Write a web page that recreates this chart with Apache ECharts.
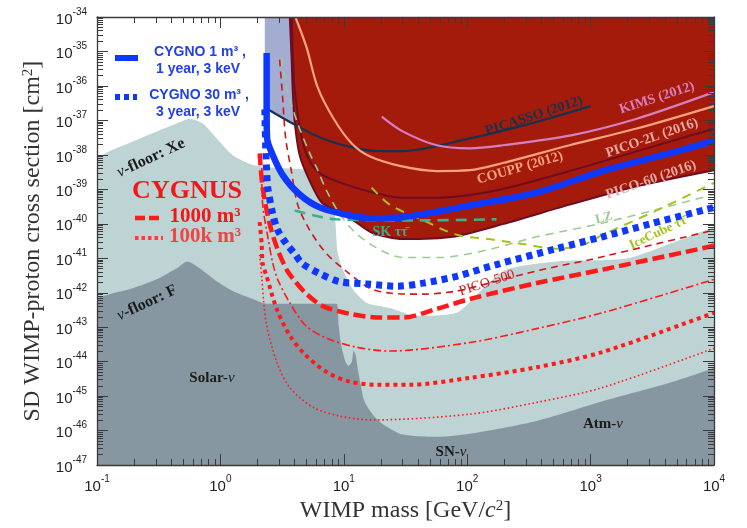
<!DOCTYPE html>
<html>
<head>
<meta charset="utf-8">
<script src="https://cdn.jsdelivr.net/npm/echarts@6/dist/echarts.min.js"></script>
<style>
  html, body { margin: 0; padding: 0; background: #fff; }
  #chart { width: 747px; height: 528px; }
</style>
</head>
<body>
<div id="chart"></div>
<script>
// values: [WIMP mass (GeV), cross section (cm^2)]
const xeFloor = [[0.1, 8.1e-39], [0.127, 1.29e-38], [0.195, 2.45e-38], [0.305, 4.8e-38], [0.443, 8.1e-38], [0.564, 1.12e-37], [0.718, 8.1e-38], [0.933, 3.0e-38], [1.26, 9.8e-39], [1.83, 5.1e-39], [2.86, 4.2e-39], [5.6, 3.6e-39], [7.8, 2.8e-39], [8.3, 5.75e-40], [8.6, 8.1e-41], [8.9, 1.55e-41], [9.8, 4.7e-42], [11.8, 1.29e-42], [15.3, 5.1e-43], [23.5, 3.6e-43], [38.9, 2.14e-43], [82, 2.63e-43], [133, 1.29e-42], [208, 4.7e-42], [531, 8.1e-42], [1960, 9.8e-42], [4375, 2.63e-41], [10000, 8.1e-41]];
const fFloor = [[0.1, 7.1e-43], [0.127, 9.1e-43], [0.195, 1.35e-42], [0.305, 2.45e-42], [0.443, 5.1e-42], [0.541, 8.1e-42], [0.679, 5.1e-42], [0.933, 2.14e-42], [1.26, 1.12e-42], [1.83, 6.6e-43], [2.37, 4.8e-43], [4.39, 4.8e-43], [8.7, 4.8e-43], [9.08, 1.12e-43], [9.6, 2.63e-44], [10.35, 9.8e-45], [10.9, 7.6e-45], [11.6, 9.8e-45], [12.0, 2.04e-44], [12.5, 1.55e-44], [12.9, 7.1e-45], [13.7, 2.14e-45], [14.7, 7.1e-46], [17.1, 3.0e-46], [20.6, 1.55e-46], [28.4, 8.1e-47], [36, 7.1e-47], [56.6, 6.6e-47], [105, 8.1e-47], [366, 1.91e-46], [1250, 7.1e-46], [4375, 2.45e-45], [10000, 6.6e-45]];

const picassoEdge = [[2.29, 1e-34], [2.29, 2.4e-37]];
const picasso = [[2.42, 2.1e-37], [3.85, 8.1e-38], [6.7, 3.0e-38], [12.7, 1.55e-38], [19.5, 1.29e-38], [30, 1.29e-38], [105, 3.0e-38], [366, 9.1e-38], [1000, 2.6e-37]];
const pico60 = [[3.65, 1e-34], [3.78, 5.75e-36], [3.85, 8.1e-37], [4.0, 9.1e-38], [4.39, 9.8e-39], [5.29, 1.78e-39], [6.62, 4.17e-40], [9.26, 2.14e-40], [12.2, 1.2e-40], [17.1, 5.4e-41], [30, 3.6e-41], [76, 4.2e-41], [194, 9.8e-41], [677, 3.6e-40], [2500, 1.29e-39], [10000, 3.6e-39]];
const pico2l = [[3.78, 1e-34], [3.95, 1.3e-36], [4.15, 2.63e-37], [4.56, 3.0e-38], [5.29, 6.6e-39], [6.7, 2.63e-39], [10.6, 1.35e-39], [17.1, 8.1e-40], [28.4, 5.75e-40], [56.6, 5.75e-40], [183, 9.8e-40], [677, 3.4e-39], [2500, 1.35e-38], [10000, 5.75e-38]];
const coupp = [[4.05, 1e-34], [5.0, 1.29e-35], [6.14, 9.1e-37], [8.28, 1.12e-37], [11.6, 2.14e-38], [16.2, 9.1e-39], [28.4, 4.8e-39], [56.6, 3.4e-39], [105, 3.6e-39], [194, 5.8e-39], [677, 1.9e-38], [2366, 5.8e-38], [10000, 2.6e-37]];
const kims = [[20.3, 1.29e-37], [30, 4.8e-38], [56.6, 1.9e-38], [105, 1.55e-38], [194, 1.9e-38], [677, 3.6e-38], [2366, 1.12e-37], [10000, 6.6e-37]];

const lz = [[3.14, 6.6e-36], [3.51, 7.1e-37], [4.23, 8.1e-38], [5.29, 1.12e-38], [6.03, 4.2e-39], [7.26, 9.1e-40], [9.3, 1.9e-40], [12.7, 5.1e-41], [19.5, 1.8e-41], [30, 1.05e-41], [60, 1.05e-41], [150, 1.8e-41], [366, 4.2e-41], [1250, 1.05e-40], [10000, 7.1e-40]];
const icecube = [[16.8, 1.12e-39], [23.5, 3.6e-40], [44, 1.26e-40], [82, 4.8e-41], [150, 3.6e-41], [280, 2.6e-41], [531, 1.9e-41], [863, 2.45e-41], [1250, 4.8e-41], [3435, 2.45e-40], [10000, 1.55e-39]];
const sk = [[4.0, 2.45e-40], [8.7, 1.35e-40], [41, 1.26e-40], [173, 1.35e-40]];
const pico500 = [[3.02, 5.8e-36], [3.2, 4.2e-37], [3.38, 3.0e-38], [3.76, 3.4e-39], [4.23, 3.6e-40], [5.29, 6.6e-41], [7.26, 1.35e-41], [10.5, 4.2e-42], [16.2, 1.35e-42], [23.5, 9.8e-43], [44, 9.1e-43], [82, 1.12e-42], [150, 1.9e-42], [280, 3.4e-42], [531, 5.8e-42], [984, 9.1e-42], [10000, 6.6e-41]];

const cygno1 = [[2.37, 9.1e-36], [2.37, 1.9e-37], [2.39, 3.0e-38], [2.66, 9.8e-39], [3.2, 2.6e-39], [4.39, 7.1e-40], [6.38, 3.0e-40], [10.7, 1.8e-40], [17, 1.45e-40], [30, 1.55e-40], [105, 3.4e-40], [366, 8.1e-40], [1250, 3.4e-39], [4400, 1.12e-38], [10000, 2.6e-38]];
const cygno30 = [[2.29, 2.1e-37], [2.33, 1.55e-38], [2.37, 3.4e-39], [2.42, 1.12e-39], [2.66, 1.9e-40], [2.91, 6.6e-41], [3.44, 2.6e-41], [4.0, 1.35e-41], [4.6, 7.1e-42], [6.38, 3.6e-42], [9.3, 2.1e-42], [15.3, 1.8e-42], [26.8, 1.55e-42], [44, 1.9e-42], [82, 3.0e-42], [173, 6.6e-42], [531, 1.9e-41], [1250, 4.2e-41], [3000, 9.8e-41], [10000, 3.0e-40]];

const cygnus1000 = [[2.08, 1.1e-38], [2.2, 1.12e-39], [2.51, 9.8e-41], [2.91, 1.78e-41], [3.44, 4.7e-42], [3.85, 2.63e-42], [4.9, 9.8e-43], [6.7, 4.17e-43], [11.2, 2.45e-43], [19.5, 1.91e-43], [30, 1.91e-43], [56.6, 3.4e-43], [105, 6.6e-43], [366, 1.91e-42], [1250, 4.7e-42], [10000, 2.3e-41]];
const cygnus1000b = [[2.16, 4.17e-39], [2.2, 3.63e-40], [2.42, 4.17e-41], [2.66, 7.1e-42], [2.91, 2.45e-42], [3.65, 5.1e-43], [4.9, 1.12e-43], [7.26, 4.8e-44], [12.7, 2.63e-44], [23.5, 2.04e-44], [105, 3.6e-44], [366, 9.1e-44], [1250, 2.63e-43], [10000, 2.45e-42]];
const cygnus100k = [[2.08, 1.12e-40], [2.16, 2.63e-41], [2.2, 7.1e-42], [2.37, 3.0e-42], [2.86, 3.4e-43], [3.65, 5.75e-44], [4.9, 1.55e-44], [7.26, 5.0e-45], [11.2, 2.63e-45], [19.5, 2.14e-45], [34, 2.14e-45], [105, 3.4e-45], [366, 6.9e-45], [1250, 1.91e-44], [10000, 2.63e-43]];
const cygnus100kb = [[2.08, 1.26e-41], [2.16, 3.0e-42], [2.24, 5.75e-43], [2.37, 1.12e-43], [2.86, 9.8e-45], [3.65, 1.78e-45], [5.6, 4.8e-46], [9.3, 2.63e-46], [17, 2.04e-46], [105, 3.0e-46], [366, 6.6e-46], [1250, 1.78e-45], [10000, 2.45e-44]];

const xRange = [0.1, 10000];
const yRange = [1e-47, 1e-34];

// the log scale rounds values this small to 0, so plot in units of 1e-47 cm^2
const Y_UNIT_EXP = 47;
const Y_UNIT = Math.pow(10, Y_UNIT_EXP);
const toPlot = d => d.map(p => [p[0], p[1] * Y_UNIT]);

const SERIF = '"Liberation Serif", "DejaVu Serif", serif';
const SANS = '"Liberation Sans", Arial, sans-serif';
const AXIS_COLOR = '#3a3a3a';

const chart = echarts.init(document.getElementById('chart'));

const tickRich = {
  b: { fontSize: 15, fontFamily: SANS, color: '#222', lineHeight: 20, verticalAlign: 'bottom' },
  s: { fontSize: 10, fontFamily: SANS, color: '#222', lineHeight: 20, verticalAlign: 'top' }
};
const xLabel = v => '{b|10}{s|' + Math.round(Math.log10(v)) + '}';
const yLabel = v => '{b|10}{s|' + (Math.round(Math.log10(v)) - Y_UNIT_EXP) + '}';

function axisBase(extra) {
  return Object.assign({
    type: 'log',
    logBase: 10,
    interval: 1,
    z: 10,
    axisLine: { show: true, lineStyle: { color: AXIS_COLOR, width: 1.3 } },
    axisTick: { show: true, inside: true, length: 11, lineStyle: { color: AXIS_COLOR, width: 1 } },
    minorTick: { show: true, splitNumber: 9, length: 6, lineStyle: { color: AXIS_COLOR, width: 1 } },
    splitLine: { show: false },
    minorSplitLine: { show: false }
  }, extra);
}

function line(name, data, color, width, dash, z) {
  return {
    type: 'line', name: name, data: toPlot(data), symbol: 'none', smooth: 0.3,
    lineStyle: { color: color, width: width, type: dash || 'solid', cap: 'butt' },
    z: z || 5, silent: true
  };
}

function area(name, data, color, origin, z, edge) {
  return {
    type: 'line', name: name, data: toPlot(data), symbol: 'none', smooth: 0.25,
    lineStyle: edge ? { color: edge, width: 2 } : { width: 0, opacity: 0 },
    areaStyle: { color: color, opacity: 1, origin: origin },
    z: z, silent: true
  };
}

function txt(text, x, y, deg, color, size, weight, rich, family) {
  return {
    type: 'text', x: x, y: y, rotation: (deg || 0) * Math.PI / 180, z: 100,
    style: {
      text: text, fill: color, fontSize: size, fontFamily: family || SERIF, fontWeight: weight || 'bold',
      align: 'center', verticalAlign: 'middle', textAlign: 'center', textVerticalAlign: 'middle',
      rich: rich
    }
  };
}
function nuRich(size, color) {
  return { i: { fontStyle: 'italic', fontWeight: 'normal', fontSize: size, fontFamily: SERIF, fill: color, color: color } };
}

const option = {
  animation: false,
  backgroundColor: '#fff',
  grid: { left: 97, right: 33, top: 17, bottom: 57, containLabel: false },
  xAxis: [
    axisBase({
      position: 'bottom', min: xRange[0], max: xRange[1],
      axisLabel: { formatter: xLabel, rich: tickRich, margin: 9 },
      name: 'WIMP mass [GeV/{i|c}{s|2}]', nameLocation: 'middle', nameGap: 26,
      nameTextStyle: { fontFamily: SERIF, fontSize: 24, color: '#333',
        rich: { i: { fontStyle: 'italic', fontFamily: SERIF, fontSize: 24, color: '#333' },
                s: { fontFamily: SERIF, fontSize: 15, color: '#333', verticalAlign: 'top' } } }
    }),
    axisBase({ position: 'top', min: xRange[0], max: xRange[1], axisLabel: { show: false } })
  ],
  yAxis: [
    axisBase({
      position: 'left', min: yRange[0] * Y_UNIT, max: yRange[1] * Y_UNIT,
      axisLabel: { formatter: yLabel, rich: tickRich, margin: 10 },
      name: 'SD WIMP-proton cross section [cm{s|2}]', nameLocation: 'middle', nameGap: 50,
      nameTextStyle: { fontFamily: SERIF, fontSize: 24, color: '#333',
        rich: { s: { fontFamily: SERIF, fontSize: 15, color: '#333', verticalAlign: 'top' } } }
    }),
    axisBase({ position: 'right', min: yRange[0] * Y_UNIT, max: yRange[1] * Y_UNIT, axisLabel: { show: false } })
  ],
  series: [
    area('Xe floor', xeFloor, '#bdd3d4', 'start', 1),
    area('F floor', fFloor, '#8797a1', 'start', 2),
    area('PICASSO region', picassoEdge.concat(picasso), '#a3acd1', 'end', 3),
    area('PICO-60 region', pico60, '#a51b0b', 'end', 4, '#6e0d22'),
    line('PICASSO', picasso, '#16324d', 2.2, 'solid', 5),
    line('KIMS', kims, '#d67fc0', 2.2, 'solid', 5),
    line('COUPP', coupp, '#f7a283', 2.2, 'solid', 5),
    line('PICO-2L', pico2l, '#6e0d22', 2, 'solid', 5),
    line('LZ', lz, '#9ccb91', 1.6, [8, 6], 5),
    line('IceCube', icecube, '#a5c21c', 2, [9, 7], 5),
    line('SK', sk, '#3db08d', 2.6, [11, 7], 5),
    line('PICO-500', pico500, '#cf1717', 1.6, [7, 5], 5),
    line('CYGNUS 1000 b', cygnus1000b, '#ff1a1a', 1.6, [8, 3, 2, 3], 6),
    line('CYGNUS 100k b', cygnus100kb, '#ff1a1a', 1.6, [1.6, 2.6], 6),
    line('CYGNUS 100k', cygnus100k, '#ff1a1a', 4, [4, 4], 6),
    line('CYGNUS 1000', cygnus1000, '#ff1a1a', 4.5, [12, 5], 6),
    line('CYGNO 30', cygno30, '#0f38ff', 7, [6, 5], 7),
    line('CYGNO 1', cygno1, '#0f38ff', 6.5, 'solid', 7)
  ],
  graphic: [
    // legend
    { type: 'line', z: 100, shape: { x1: 115, y1: 58, x2: 138, y2: 58 }, style: { stroke: '#0f38ff', lineWidth: 6 } },
    { type: 'line', z: 100, shape: { x1: 115, y1: 97, x2: 137, y2: 97 }, style: { stroke: '#0f38ff', lineWidth: 6, lineDash: [5, 4] } },
    txt('CYGNO 1 m³ ,', 200, 52, 0, '#2040e8', 14, 'bold', null, SANS),
    txt('1 year, 3 keV', 198, 69, 0, '#2040e8', 14, 'bold', null, SANS),
    txt('CYGNO 30 m³ ,', 199, 95, 0, '#2040e8', 14, 'bold', null, SANS),
    txt('3 year, 3 keV', 198, 112, 0, '#2040e8', 14, 'bold', null, SANS),
    txt('CYGNUS', 187, 191, 0, '#f01818', 26, 'bold'),
    { type: 'line', z: 100, shape: { x1: 135, y1: 218, x2: 163, y2: 218 }, style: { stroke: '#ff1a1a', lineWidth: 4.5, lineDash: [10, 4] } },
    { type: 'line', z: 100, shape: { x1: 135, y1: 238, x2: 163, y2: 238 }, style: { stroke: '#ff3a3a', lineWidth: 4, lineDash: [3.5, 3] } },
    txt('1000 m³', 205, 217, 0, '#f01818', 21, 'bold'),
    txt('100k m³', 205, 237, 0, '#f04545', 21, 'bold'),
    // region and curve labels
    txt('{i|ν}-floor: Xe', 151, 158, 25, '#1a1a1a', 16, 'bold', nuRich(16, '#1a1a1a')),
    txt('{i|ν}-floor: F', 147, 303, 25, '#1a1a1a', 16, 'bold', nuRich(16, '#1a1a1a')),
    txt('Solar-{i|ν}', 212, 378, 0, '#1a1a1a', 15, 'bold', nuRich(15, '#1a1a1a')),
    txt('SN-{i|ν}', 451, 452, 0, '#1a1a1a', 15, 'bold', nuRich(15, '#1a1a1a')),
    txt('Atm-{i|ν}', 603, 424, 0, '#1a1a1a', 15, 'bold', nuRich(15, '#1a1a1a')),
    txt('PICASSO (2012)', 534, 116, 18, '#16324d', 14, 'bold'),
    txt('KIMS (2012)', 657, 98, 18, '#d67fc0', 14, 'bold'),
    txt('COUPP (2012)', 520, 168, 16, '#f2a07e', 14, 'bold'),
    txt('PICO-2L (2016)', 652, 138, 19, '#e6a9a3', 14, 'bold'),
    txt('PICO-60 (2016)', 651, 180, 19, '#e6a9a3', 14, 'bold'),
    txt('LZ', 604, 218, 15, '#9ccb91', 13, 'bold'),
    txt('IceCube ττ̄', 658, 233, 25, '#a5c21c', 13, 'bold'),
    txt('SK ττ̄', 390, 232, 0, '#3aa98a', 14, 'bold'),
    txt('PICO-500', 487, 283, 18, '#cf1717', 14, 'normal')
  ]
};

chart.setOption(option);
</script>
</body>
</html>
